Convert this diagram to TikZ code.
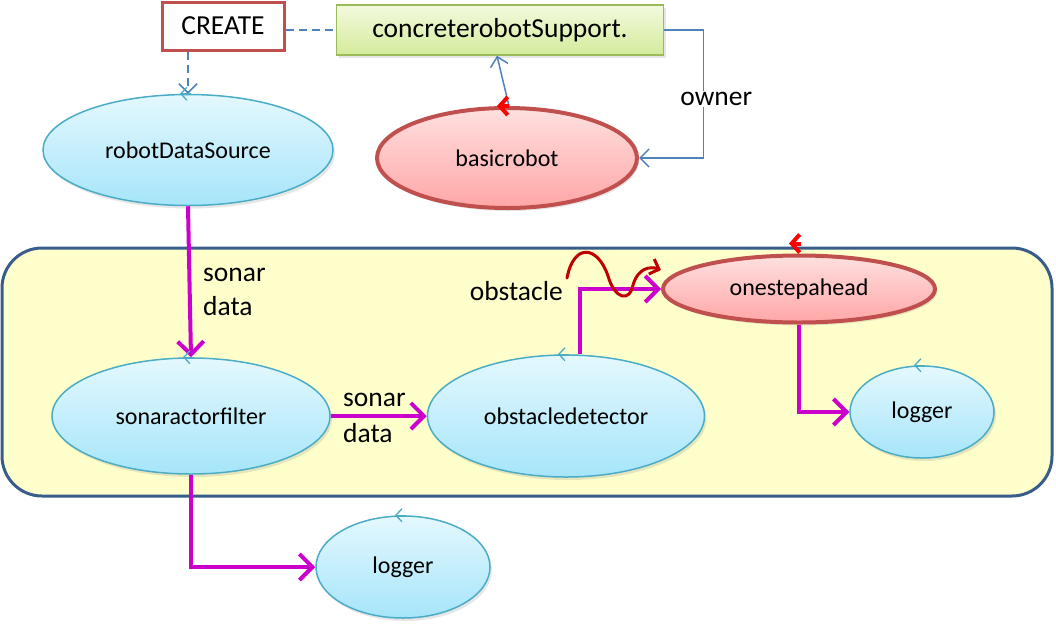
\documentclass[tikz,border=0pt]{standalone}
\usepackage{fontspec}
\setmainfont{Carlito}
\usetikzlibrary{arrows.meta,shapes.geometric,shadows}

\definecolor{cyanedge}{HTML}{4BACC6}
\definecolor{cyantop}{HTML}{E4F8FE}
\definecolor{cyanbot}{HTML}{A6E5FA}
\definecolor{rededge}{HTML}{C0504D}
\definecolor{redtop}{HTML}{FFE0E0}
\definecolor{redbot}{HTML}{FFA6A6}
\definecolor{greenedge}{HTML}{9BBB59}
\definecolor{greentop}{HTML}{F3FADE}
\definecolor{greenbot}{HTML}{D3EB9B}
\definecolor{framefill}{HTML}{FFFFCC}
\definecolor{frameedge}{HTML}{385D8A}
\definecolor{flow}{HTML}{CC00CC}
\definecolor{link}{HTML}{4F81BD}
\definecolor{squig}{HTML}{C00000}

\begin{document}
\begin{tikzpicture}[x=1pt, y=-1pt,
  actor/.style={ellipse, inner sep=0pt, draw=cyanedge, line width=1.5pt,
    top color=cyantop, bottom color=cyanbot, font=\fontsize{24}{28}\selectfont,
    drop shadow={opacity=0.2, shadow xshift=2pt, shadow yshift=-3pt}},
  robot/.style={actor, draw=rededge, line width=4pt, top color=redtop, bottom color=redbot},
  lbl/.style={font=\fontsize{27.5}{34}\selectfont, inner sep=0pt},
  flowarrow/.style={draw=flow, line width=4pt, -{Straight Barb[length=13pt,width=26pt]}},
  linkline/.style={draw=link, line width=1.5pt},
  linkarrow/.style={linkline, -{Straight Barb[length=9pt,width=18pt]}},
  bluemark/.style={draw=cyanedge, line width=1.3pt, -{Straight Barb[length=6pt,width=13pt]}},
  redmark/.style={draw=red, line width=4pt, -{Straight Barb[length=8pt,width=18pt]}}]
  \useasboundingbox (0,0) rectangle (1056,627);

  % container
  \draw[frameedge, line width=3pt, fill=framefill, rounded corners=40pt] (2,248) rectangle (1052,496);

  % top row
  \node[lbl, draw=rededge, line width=3pt, fill=white, minimum width=122pt, minimum height=48pt] (create) at (223,26) {CREATE};
  \node[lbl, draw=greenedge, line width=1.5pt, top color=greentop, bottom color=greenbot,
        minimum width=327pt, minimum height=50pt,
        drop shadow={opacity=0.2, shadow xshift=2pt, shadow yshift=-3pt}] (crs) at (500,30) {concreterobotSupport.};
  \node[actor, minimum width=290pt, minimum height=111pt] (rds) at (188,150) {robotDataSource};
  \node[robot, minimum width=260pt, minimum height=100pt] (br) at (507,158) {basicrobot};

  % inside the container
  \node[robot, minimum width=272pt, minimum height=67pt] (ose) at (799,289) {onestepahead};
  \node[actor, minimum width=278pt, minimum height=116pt] (saf) at (191,416) {sonaractorfilter};
  \node[actor, minimum width=277pt, minimum height=122pt] (od) at (566,416) {obstacledetector};
  \node[actor, minimum width=144pt, minimum height=92pt] (lg2) at (922,412) {logger};
  \node[actor, minimum width=174pt, minimum height=102pt] (lg1) at (403,567) {logger};

  % links
  \draw[linkline, dashed, dash pattern=on 8pt off 5pt] (create.east |- crs.west) -- (crs.west);
  \draw[linkarrow, dashed, dash pattern=on 8pt off 5pt] (rds.north |- create.south) -- (rds.north);
  \draw[linkarrow] ([xshift=2]br.north) -- ([xshift=-3]crs.south);
  \draw[linkarrow] (crs.east) -- ++(39,0) |- node[pos=0.27, xshift=13pt, lbl, fill=white, inner sep=1pt] (own) {owner} (br.east);

  % data flow
  \draw[flowarrow] (rds.south) -- (saf.north);
  \node[lbl, align=left, anchor=west] (sd1) at (203,292) {sonar\\data};
  \draw[flowarrow] (saf.east) -- (od.west);
  \node[lbl, align=left, anchor=west, font=\fontsize{27.5}{36}\selectfont] (sd2) at (343,418) {sonar\\data};
  \draw[flowarrow] (saf.south) |- (lg1.west);
  \draw[flowarrow] ([xshift=14]od.north) |- (ose.west);
  \node[lbl, anchor=east] (obs) at (563,291) {obstacle};
  \draw[flowarrow] (ose.south) |- (lg2.west);

  % event squiggle
  \coordinate (sqstart) at (567,278);
  \draw[squig, line width=3pt, line cap=round, -{Straight Barb[length=8pt,width=16pt]}]
    (sqstart) .. controls (574,242) and (598,246) .. (608,276)
    .. controls (615,300) and (630,302) .. (633,285)
    .. controls (638,268) and (650,266) .. ([yshift=19]ose.west);

  % markers
  \foreach \e in {rds,saf,od,lg2,lg1}
    \draw[bluemark] ([xshift=3]\e.north) -- ([xshift=-8]\e.north);
  \draw[redmark] ([xshift=2]br.north) -- ([xshift=-10]br.north);
  \draw[redmark] ([xshift=2,yshift=10]ose.north) -- ([xshift=-10,yshift=10]ose.north);
\end{tikzpicture}
\end{document}
